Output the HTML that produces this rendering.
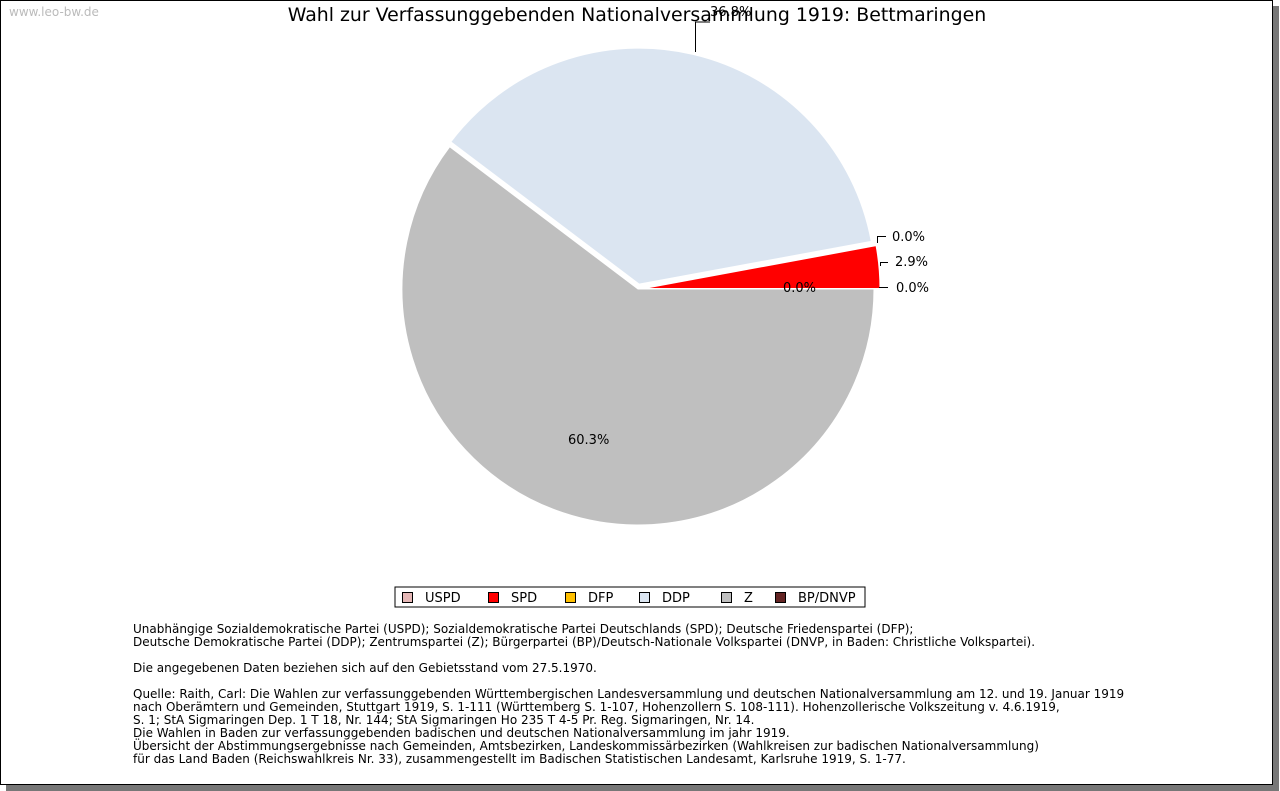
<!DOCTYPE html>
<html><head><meta charset="utf-8"><style>
body{margin:0;background:#fff;font-family:"Liberation Sans","DejaVu Sans",sans-serif}
#frame{position:absolute;left:0;top:0;width:1271px;height:783px;border:1px solid #000;background:#fff;box-shadow:6px 6px 0 #777}
.note{position:absolute;left:133px;font-family:"DejaVu Sans",sans-serif;font-size:12px;line-height:13px;color:#000;white-space:pre}
</style></head><body>
<div id="frame"></div>
<svg width="1280" height="791" style="position:absolute;left:0;top:0">
<text x="9" y="16" font-size="12" fill="#bbb" font-family="DejaVu Sans">www.leo-bw.de</text>
<text x="637" y="21" font-size="18.9" text-anchor="middle" font-family="DejaVu Sans">Wahl zur Verfassunggebenden Nationalversammlung 1919: Bettmaringen</text>
<g id="pie"></g>
<g id="legend">
<rect x="395" y="587" width="470" height="20" fill="#fff" stroke="#000"/>
</g>
</svg>
<div class="note" style="top:623px">Unabhängige Sozialdemokratische Partei (USPD); Sozialdemokratische Partei Deutschlands (SPD); Deutsche Friedenspartei (DFP);
Deutsche Demokratische Partei (DDP); Zentrumspartei (Z); Bürgerpartei (BP)/Deutsch-Nationale Volkspartei (DNVP, in Baden: Christliche Volkspartei).

Die angegebenen Daten beziehen sich auf den Gebietsstand vom 27.5.1970.

Quelle: Raith, Carl: Die Wahlen zur verfassunggebenden Württembergischen Landesversammlung und deutschen Nationalversammlung am 12. und 19. Januar 1919
nach Oberämtern und Gemeinden, Stuttgart 1919, S. 1-111 (Württemberg S. 1-107, Hohenzollern S. 108-111). Hohenzollerische Volkszeitung v. 4.6.1919,
S. 1; StA Sigmaringen Dep. 1 T 18, Nr. 144; StA Sigmaringen Ho 235 T 4-5 Pr. Reg. Sigmaringen, Nr. 14.
Die Wahlen in Baden zur verfassunggebenden badischen und deutschen Nationalversammlung im jahr 1919.
Übersicht der Abstimmungsergebnisse nach Gemeinden, Amtsbezirken, Landeskommissärbezirken (Wahlkreisen zur badischen Nationalversammlung)
für das Land Baden (Reichswahlkreis Nr. 33), zusammengestellt im Badischen Statistischen Landesamt, Karlsruhe 1919, S. 1-77.</div>
<script>
const parties=["Z","DDP","SPD","USPD","DFP","BP/DNVP"];
const values=[60.3,36.8,2.9,0.0,0.0,0.0];
const colors={"USPD":"#e6b8b7","SPD":"#ff0000","DFP":"#ffc000","DDP":"#dbe5f1","Z":"#bfbfbf","BP/DNVP":"#632423"};
const explode={"Z":0,"DDP":5,"SPD":6};
const legendOrder=["USPD","SPD","DFP","DDP","Z","BP/DNVP"];
const NS="http://www.w3.org/2000/svg";
const cx=638,cy=289,R=236;
const g=document.getElementById('pie');
const total=values.reduce((a,b)=>a+b,0);
let a=0;
function mk(t,attrs){const e=document.createElementNS(NS,t);for(const k in attrs)e.setAttribute(k,attrs[k]);return e;}
parties.forEach((p,i)=>{
  const sweep=values[i]/total*2*Math.PI;
  const a0=a,a1=a+sweep;a=a1;
  if(values[i]<=0)return;
  const mid=(a0+a1)/2,ex=explode[p]||0;
  const ox=cx+ex*Math.cos(mid),oy=cy+ex*Math.sin(mid);
  const x0=ox+R*Math.cos(a0),y0=oy+R*Math.sin(a0),x1=ox+R*Math.cos(a1),y1=oy+R*Math.sin(a1);
  const path=mk('path',{d:`M${ox},${oy}L${x0},${y0}A${R},${R} 0 ${sweep>Math.PI?1:0} 1 ${x1},${y1}Z`,fill:colors[p],stroke:'#fff','stroke-width':1});
  
  
  g.appendChild(path);
});
function label(x,y,txt,name){const t=mk('text',{x:x,y:y,'font-size':13,'font-family':'DejaVu Sans'});t.textContent=txt;
  
  
  g.appendChild(t);}
function line(d){g.appendChild(mk('path',{d:d,stroke:'#000',fill:'none','stroke-width':1}));}
label(568,444,values[0].toFixed(1)+'%','label-z');
line('M695.5,52V22H710');label(710,16,values[1].toFixed(1)+'%','label-ddp');
line('M877.5,243V236.5H886');label(892,241,values[4].toFixed(1)+'%','label-dfp');
line('M880.5,266V262.5H888');label(895,266,values[2].toFixed(1)+'%','label-spd');
line('M879,287.5H888');label(896,292,values[3].toFixed(1)+'%','label-uspd');
label(783,292,values[5].toFixed(1)+'%','label-bp-dnvp');
const lg=document.getElementById('legend');
const lx=[402,488,565,639,721,775];
legendOrder.forEach((p,i)=>{
  const r=mk('rect',{x:lx[i]+0.5,y:592.5,width:10,height:10,fill:colors[p],stroke:'#000'});
  
  
  lg.appendChild(r);
  const t=mk('text',{x:lx[i]+23,y:602,'font-size':13,'font-family':'DejaVu Sans'});t.textContent=p;
  
  
  lg.appendChild(t);
});
</script>
</body></html>
